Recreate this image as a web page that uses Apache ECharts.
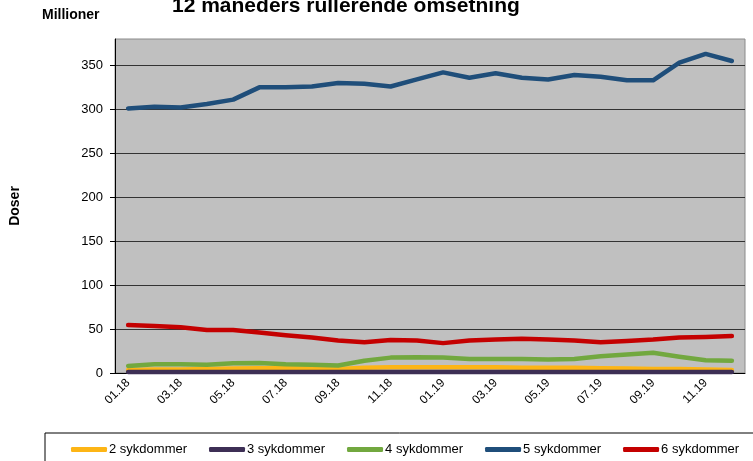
<!DOCTYPE html>
<html>
<head>
<meta charset="utf-8">
<script src="https://cdn.jsdelivr.net/npm/echarts@6.0.0/dist/echarts.min.js"></script>
<style>
  html, body { margin: 0; padding: 0; background: #fff; }
  #chart { width: 753px; height: 461px; }
</style>
</head>
<body>
<div id="chart"></div>
<script>
// months 01.18 - 12.19
const months = ['01.18', '02.18', '03.18', '04.18', '05.18', '06.18', '07.18', '08.18', '09.18', '10.18', '11.18', '12.18',
  '01.19', '02.19', '03.19', '04.19', '05.19', '06.19', '07.19', '08.19', '09.19', '10.19', '11.19', '12.19']

// millioner doser, lest av bildet
const syk2 = [3.5, 4, 4, 4.5, 5, 5.5, 5.5, 5, 4.5, 6, 6.5, 6.5, 6.5, 6.5, 6.5, 6, 6, 6, 5.5, 5, 4.5, 4.5, 4, 3.5]
const syk3 = [1, 1, 1, 1, 1, 1, 1, 1, 1, 1, 1, 1, 1, 1, 1, 1, 1, 1, 1, 1, 1, 1, 1, 1]
const syk4 = [8, 10, 10, 9.5, 11, 11.5, 10, 9.5, 8.5, 14, 17.5, 18, 17.5, 16, 16, 16, 15.5, 16, 19, 21, 23, 18.5, 14.5, 14]
const syk5 = [301, 303, 302, 306, 311, 325, 325, 326, 330, 329, 326, 334, 342, 336, 341, 336, 334, 339, 337, 333, 333, 353, 363, 355]
const syk6 = [54.5, 53.5, 52, 49, 49, 46, 43, 40.5, 37, 35, 37.5, 37, 34, 37, 38, 39, 38, 37, 35, 36.5, 38, 40.5, 41, 42]

const seriesNames = ['2 sykdommer', '3 sykdommer', '4 sykdommer', '5 sykdommer', '6 sykdommer']
const seriesData = [syk2, syk3, syk4, syk5, syk6]
const colors = ['#FDB515', '#3D2F55', '#72A83F', '#1F4E7A', '#C40000']

const font = 'Liberation Sans, Arial, sans-serif'

const chart = echarts.init(document.getElementById('chart'), null, { renderer: 'canvas' })

const option = {
  animation: false,
  textStyle: { fontFamily: font },
  title: [{
    text: '12 måneders rullerende omsetning',
    left: 172,
    top: -4,
    padding: 0,
    textStyle: { fontSize: 21, fontWeight: 'bold', color: '#000', fontFamily: font }
  }, {
    text: 'Millioner',
    left: 42,
    top: 8,
    padding: 0,
    textStyle: { fontSize: 14, fontWeight: 'bold', color: '#000', fontFamily: font }
  }],
  grid: {
    left: 115,
    right: 8,
    top: 39,
    bottom: 88,
    show: true,
    backgroundColor: '#C0C0C0',
    borderColor: '#8a8a8a',
    borderWidth: 1
  },
  legend: {
    data: seriesNames,
    left: 45,
    top: 433,
    width: 900,
    orient: 'horizontal',
    icon: 'roundRect',
    itemWidth: 36,
    itemHeight: 5,
    itemGap: 22,
    padding: [10, 40, 22, 26],
    borderColor: '#000',
    borderWidth: 1,
    textStyle: { fontSize: 13, color: '#000', fontFamily: font, padding: [0, 0, 0, -3] }
  },
  xAxis: {
    type: 'category',
    data: months,
    boundaryGap: true,
    axisLine: { lineStyle: { color: '#000', width: 1 } },
    axisTick: { interval: 1, length: 5, lineStyle: { color: '#000' } },
    axisLabel: { interval: 1, rotate: 45, fontSize: 12, color: '#000', margin: 8, fontFamily: font },
    splitLine: { show: false }
  },
  yAxis: {
    type: 'value',
    name: 'Doser',
    nameLocation: 'middle',
    nameRotate: 90,
    nameGap: 93,
    nameTextStyle: { fontSize: 14, fontWeight: 'bold', color: '#000', fontFamily: font },
    min: 0,
    max: 380,
    interval: 50,
    axisLine: { show: true, lineStyle: { color: '#000', width: 1 } },
    axisTick: { show: true, length: 5, lineStyle: { color: '#000' } },
    axisLabel: { fontSize: 13, color: '#000', margin: 12, showMaxLabel: false, fontFamily: font },
    splitLine: { show: true, showMaxLine: false, lineStyle: { color: '#333', width: 1 } }
  },
  series: seriesData.map((d, i) => ({
    name: seriesNames[i],
    type: 'line',
    data: d,
    symbol: 'none',
    smooth: false,
    color: colors[i],
    lineStyle: { width: 4.5, color: colors[i], cap: 'round', join: 'round' }
  }))
}

chart.setOption(option)
</script>
</body>
</html>
